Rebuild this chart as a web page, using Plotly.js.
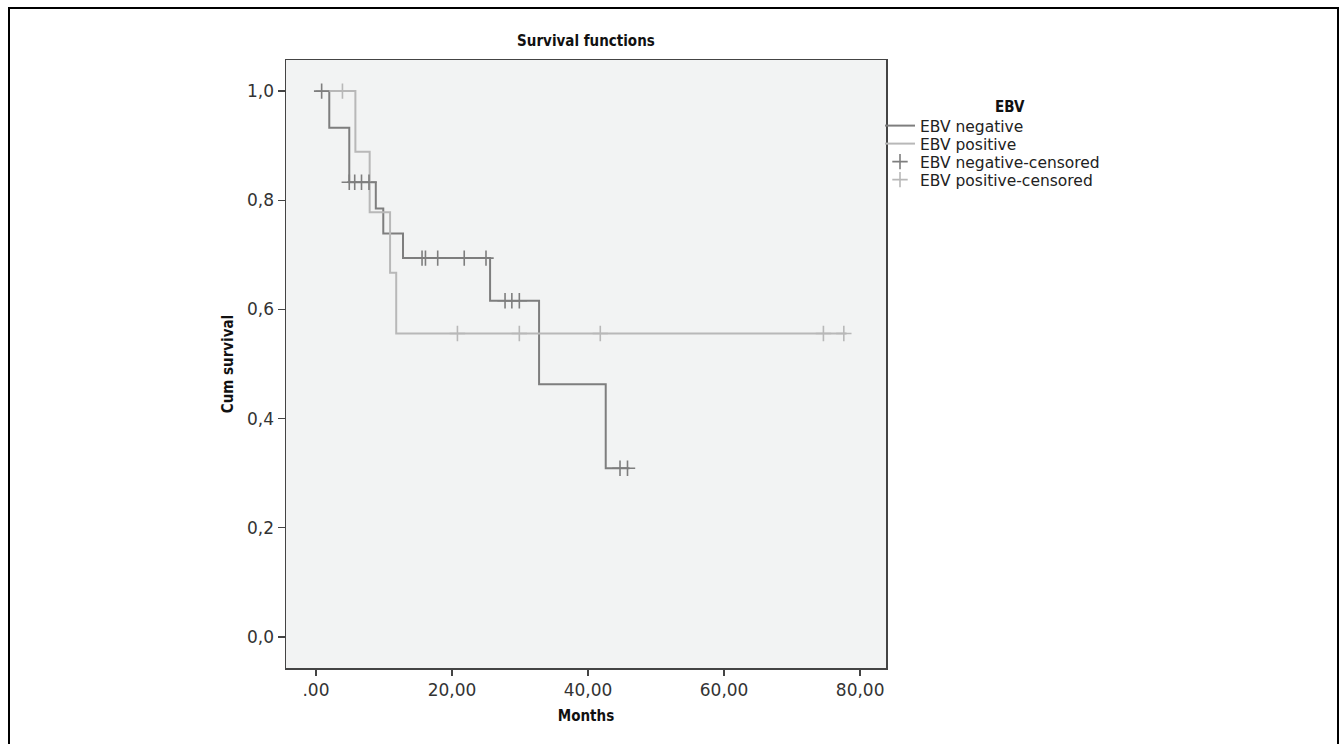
<!DOCTYPE html>
<html>
<head>
<meta charset="utf-8">
<script src="https://cdn.plot.ly/plotly-3.0.1.min.js"></script>
<style>
  html, body { margin:0; padding:0; background:#fff; }
  #chart { position:absolute; left:0; top:0; width:1339px; height:744px; }
  #frame { position:absolute; left:8px; top:7px; width:1331px; height:800px;
           border-left:2px solid #000; border-top:2px solid #000; border-right:2px solid #000;
           box-sizing:border-box; pointer-events:none; z-index:5; }
</style>
</head>
<body>
<div id="chart"></div>
<div id="frame"></div>
<script>
// ---- data ----
var negTime = [0, 1.96, 4.9, 8.8, 9.9, 12.8, 25.6, 32.8, 42.6, 46.1];
var negSurv = [1.0, 0.933, 0.833, 0.785, 0.739, 0.694, 0.616, 0.463, 0.309, 0.309];

var posTime = [0, 5.8, 7.9, 10.9, 11.8, 78.0];
var posSurv = [1.0, 0.889, 0.778, 0.667, 0.556, 0.556];

var negCensTime = [0.84, 4.9, 5.7, 6.7, 7.8, 15.6, 16.1, 17.9, 21.8, 25.0, 27.8, 28.8, 29.9, 44.7, 45.8];
var negCensSurv = [1.0, 0.833, 0.833, 0.833, 0.833, 0.694, 0.694, 0.694, 0.694, 0.694, 0.616, 0.616, 0.616, 0.309, 0.309];

var posCensTime = [3.9, 20.8, 29.9, 41.8, 74.6, 77.6];
var posCensSurv = [1.0, 0.556, 0.556, 0.556, 0.556, 0.556];

var legendTitle = 'EBV';
var seriesNames = ['EBV negative', 'EBV positive', 'EBV negative-censored', 'EBV positive-censored'];

var xTickVals = [0, 20, 40, 60, 80];
var xTickText = ['.00', '20,00', '40,00', '60,00', '80,00'];
var yTickVals = [0, 0.2, 0.4, 0.6, 0.8, 1.0];
var yTickText = ['0,0', '0,2', '0,4', '0,6', '0,8', '1,0'];

// ---- styling ----
var negColor = '#7e7e7e';
var posColor = '#b8b8b8';
var narrow = '"Liberation Sans Narrow", "DejaVu Sans Condensed", "Arial Narrow", sans-serif';
var regular = '"DejaVu Sans", "Liberation Sans", Arial, sans-serif';

var legendIds = ['legend', 'legend2', 'legend3', 'legend4'];
var legendY = [0.8914, 0.8618, 0.8322, 0.8026];

var traces = [
  { x: negTime, y: negSurv, name: seriesNames[0], legend: legendIds[0], mode: 'lines',
    line: { shape: 'hv', color: negColor, width: 2 } },
  { x: posTime, y: posSurv, name: seriesNames[1], legend: legendIds[1], mode: 'lines',
    line: { shape: 'hv', color: posColor, width: 2 } },
  { x: negCensTime, y: negCensSurv, name: seriesNames[2], legend: legendIds[2], mode: 'markers',
    marker: { symbol: 'cross-thin-open', size: 11, color: negColor, line: { color: negColor, width: 1.6 } } },
  { x: posCensTime, y: posCensSurv, name: seriesNames[3], legend: legendIds[3], mode: 'markers',
    marker: { symbol: 'cross-thin-open', size: 11, color: posColor, line: { color: posColor, width: 1.6 } } }
];

function legendAt(yPaper) {
  return {
    x: 0.99, xanchor: 'left', y: yPaper, yanchor: 'middle',
    bgcolor: 'rgba(0,0,0,0)', itemwidth: 30, tracegroupgap: 0,
    font: { family: regular, size: 15.5, color: '#222' }
  };
}

var layout = {
  width: 1339, height: 744,
  paper_bgcolor: '#ffffff',
  plot_bgcolor: '#f2f3f3',
  margin: { l: 286, r: 453, t: 60, b: 76 },
  showlegend: true,
  title: { text: '<b>Survival functions</b>', x: 0.4376, xanchor: 'center', y: 0.945, yanchor: 'middle',
           font: { family: narrow, size: 15, color: '#111' } },
  xaxis: {
    range: [-4.4, 83.8], tickvals: xTickVals, ticktext: xTickText,
    showgrid: false, zeroline: false, showline: true, mirror: true, linecolor: '#444', linewidth: 1.5,
    ticks: 'outside', ticklen: 6, tickwidth: 1.5, tickcolor: '#444',
    tickfont: { family: regular, size: 17, color: '#333' },
    title: { text: '<b>Months</b>', font: { family: narrow, size: 15, color: '#111' }, standoff: 11 }
  },
  yaxis: {
    range: [-0.057, 1.057], tickvals: yTickVals, ticktext: yTickText,
    showgrid: false, zeroline: false, showline: true, mirror: true, linecolor: '#444', linewidth: 1.5,
    ticks: 'outside', ticklen: 7, tickwidth: 1.5, tickcolor: '#444',
    tickfont: { family: regular, size: 17, color: '#333' },
    title: { text: '<b>Cum survival</b>', font: { family: narrow, size: 15, color: '#111' }, standoff: 10 }
  },
  legend: legendAt(legendY[0]),
  legend2: legendAt(legendY[1]),
  legend3: legendAt(legendY[2]),
  legend4: legendAt(legendY[3]),
  annotations: [
    { text: '<b>' + legendTitle + '</b>', xref: 'paper', yref: 'paper', x: 1.2067, y: 0.9227,
      xanchor: 'center', yanchor: 'middle', showarrow: false,
      font: { family: narrow, size: 15, color: '#111' } }
  ]
};

Plotly.newPlot('chart', traces, layout, { displayModeBar: false, staticPlot: true });
</script>
</body>
</html>
